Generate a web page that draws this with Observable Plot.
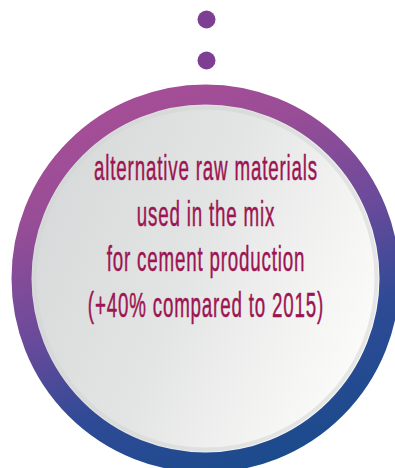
<!DOCTYPE html>
<html>
<head>
<meta charset="utf-8">
<script src="https://cdn.jsdelivr.net/npm/d3@7"></script>
<script src="https://cdn.jsdelivr.net/npm/@observablehq/plot@0.6"></script>
<style>
  html, body { margin: 0; padding: 0; background: #ffffff; }
  #chart svg { display: block; }
</style>
</head>
<body>
<div id="chart"></div>
<script>
// Text lines of the infographic
const lines = [
  "alternative raw materials",
  "used in the mix",
  "for cement production",
  "(+40% compared to 2015)"
];
// Decorative dots above the circle (order index)
const dotsIdx = [0, 1];
// The single ring
const ring = [{ key: "circle" }];

const W = 395, H = 468;
const cx = 205, cy = 278;
const targetWidth = 224; // pixel width of the first line in the reference

const lineData = lines.map((t, i) => ({ t, x: cx + 1, y: 180 + i * 45.7 }));
const dotData = dotsIdx.map(i => ({ x: 206, y: 19 + i * 41 }));
const ringData = ring.map(d => ({ ...d, x: cx, y: cy }));

const defs = () => {
  const g = d3.create("svg:defs");
  const lg = g.append("linearGradient").attr("id", "ringGrad")
    .attr("x1", "0.3").attr("y1", "0").attr("x2", "0.7").attr("y2", "1");
  lg.append("stop").attr("offset", "0").attr("stop-color", "#a64e97");
  lg.append("stop").attr("offset", "0.2").attr("stop-color", "#984d96");
  lg.append("stop").attr("offset", "0.48").attr("stop-color", "#6a4a9b");
  lg.append("stop").attr("offset", "0.72").attr("stop-color", "#2f4a96");
  lg.append("stop").attr("offset", "1").attr("stop-color", "#1b4b8c");
  const ig = g.append("linearGradient").attr("id", "innerGrad")
    .attr("x1", "0").attr("y1", "0.3").attr("x2", "1").attr("y2", "0.7");
  ig.append("stop").attr("offset", "0").attr("stop-color", "#d6d9d9");
  ig.append("stop").attr("offset", "0.45").attr("stop-color", "#e3e5e4");
  ig.append("stop").attr("offset", "0.8").attr("stop-color", "#f5f5f4");
  ig.append("stop").attr("offset", "1").attr("stop-color", "#fdfdfc");
  return g.node();
};

const plot = Plot.plot({
  width: W,
  height: H,
  margin: 0,
  x: { domain: [0, W], range: [0, W], axis: null },
  y: { domain: [0, H], range: [0, H], axis: null },
  r: { type: "identity" },
  style: { background: "#ffffff", overflow: "hidden" },
  marks: [
    defs,
    Plot.dot(ringData, { x: "x", y: "y", r: 184, fill: "url(#innerGrad)", stroke: "url(#ringGrad)", strokeWidth: 20 }),
    Plot.dot(ringData, { x: "x", y: "y", r: 171, fill: "none", stroke: "#d4d6d5", strokeOpacity: 0.55, strokeWidth: 4 }),
    Plot.dot(dotData, { x: "x", y: "y", r: 9, fill: "#7e3f93", stroke: "none" }),
    Plot.text(lineData, {
      x: "x", y: "y", text: "t",
      fill: "#9c1452",
      stroke: "#9c1452",
      strokeWidth: 0.5,
      fontSize: 36,
      fontFamily: "'Liberation Sans', Arial, sans-serif",
      textAnchor: "middle",
      lineAnchor: "bottom"
    })
  ]
});

document.getElementById("chart").appendChild(plot);

// Condense the text horizontally around the circle centre so the first line matches the reference width
const tg = d3.select(plot).select("g[aria-label=text]");
tg.attr("letter-spacing", "1.6");
const first = tg.select("text").node();
const w = first ? first.getBBox().width : targetWidth;
const sx = targetWidth / w;
tg.attr("transform", `translate(${cx + 1},0) scale(${sx},1) translate(${-(cx + 1)},0)`);
</script>
</body>
</html>
